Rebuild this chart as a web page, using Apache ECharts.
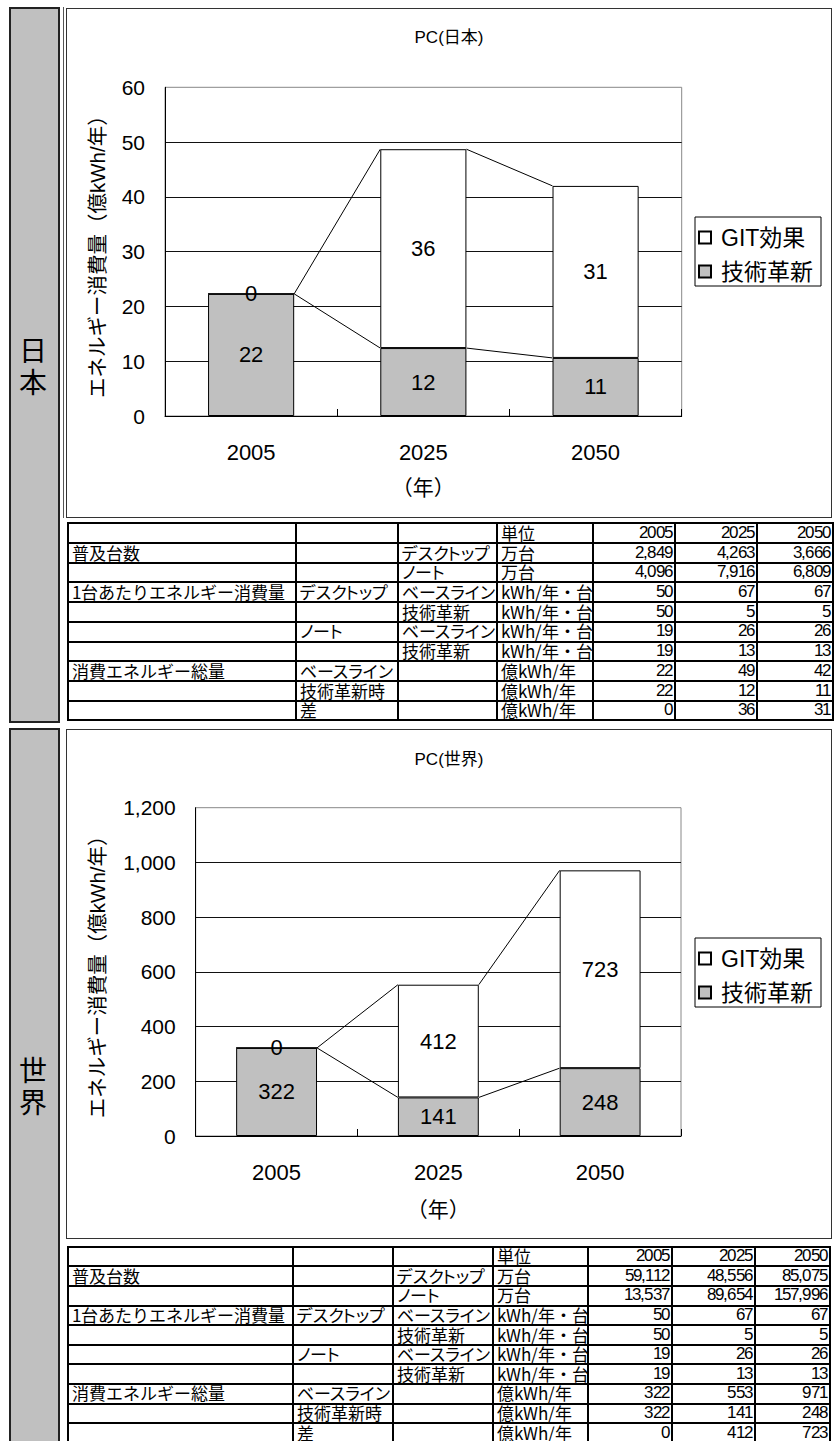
<!DOCTYPE html>
<html><head><meta charset="utf-8">
<script src="https://cdn.jsdelivr.net/npm/echarts@6/dist/echarts.min.js"></script>
<style>
@font-face{font-family:'TblJP';src:local('Noto Sans CJK JP'),local('Noto Sans CJK JP Regular'),local('NotoSansCJKjp-Regular'),local('NotoSansCJKJP-Regular');ascent-override:86%;descent-override:12%;line-gap-override:0%;}
@font-face{font-family:'TblNum';src:local('Liberation Sans'),local('LiberationSans'),local('LiberationSans-Regular');ascent-override:80%;descent-override:16%;line-gap-override:0%;}
html,body{margin:0;padding:0;background:#fff;}
body{width:837px;height:1441px;position:relative;overflow:hidden;font-family:'Noto Sans CJK JP',sans-serif;}
.side{position:absolute;left:9px;width:51px;box-sizing:border-box;border:2px solid #222;background:#c0c0c0;}
.sideLabel{position:absolute;left:9px;width:47px;text-align:center;font-size:28px;line-height:32px;color:#000;font-family:'TblJP','Noto Sans CJK JP',sans-serif;}
.box{position:absolute;left:66px;width:766px;box-sizing:border-box;border:1px solid #333;}
.chart{position:absolute;left:66px;width:766px;}
.hl{position:absolute;height:2px;background:#000;}
.vl{position:absolute;width:2px;background:#000;}
.cell{position:absolute;display:flex;align-items:flex-end;line-height:1;white-space:nowrap;color:#000;}
.txt{font-family:'TblJP','Noto Sans CJK JP',sans-serif;font-size:17px;justify-content:flex-start;padding-left:3px;box-sizing:border-box;}
.num{font-family:'TblNum','Liberation Sans',sans-serif;font-size:17px;letter-spacing:-0.8px;justify-content:flex-end;padding-right:2px;box-sizing:border-box;padding-bottom:1px;}
.palt{font-feature-settings:"palt";}
</style></head><body>
<div class="side" style="top:7px;height:716px;"></div>
<div class="sideLabel" style="top:335px;">日<br>本</div>
<div class="side" style="top:728px;height:730px;"></div>
<div class="sideLabel" style="top:1055px;">世<br>界</div>

<div style="position:absolute;left:63px;top:7px;width:1px;height:511px;background:#555;"></div>
<div class="box" style="top:8px;height:510px;"></div>
<div id="c1" class="chart" style="top:8px;height:510px;"></div>
<div class="box" style="top:729px;height:510px;"></div>
<div id="c2" class="chart" style="top:729px;height:510px;"></div>
<div id="tables"></div>

<script>
// ---- data ----
const years = ['2005', '2025', '2050'];
const jpTech = [22.3, 12.4, 10.6];   // 技術革新
const jpGit = [0, 36.3, 31.4];       // GIT効果
const wTech = [322, 141, 248];
const wGit = [0, 412, 723];
const jpYTicks = {min: 0, max: 60, interval: 10};
const wYTicks = {min: 0, max: 1200, interval: 200};

const tHeader = ['', '', '', '単位'];
const tCol1 = ['普及台数', '', '1台あたりエネルギー消費量', '', '', '', '消費エネルギー総量', '', ''];
const tCol2 = ['', '', 'デスクトップ', '', 'ノート', '', 'ベースライン', '技術革新時', '差'];
const tCol3 = ['デスクトップ', 'ノート', 'ベースライン', '技術革新', 'ベースライン', '技術革新', '', '', ''];
const tUnit = ['万台', '万台', 'kWh/年・台', 'kWh/年・台', 'kWh/年・台', 'kWh/年・台', '億kWh/年', '億kWh/年', '億kWh/年'];
const jpTable = [[2849, 4263, 3666], [4096, 7916, 6809], [50, 67, 67], [50, 5, 5], [19, 26, 26], [19, 13, 13], [22, 49, 42], [22, 12, 11], [0, 36, 31]];
const wTable = [[59112, 48556, 85075], [13537, 89654, 157996], [50, 67, 67], [50, 5, 5], [19, 26, 26], [19, 13, 13], [322, 553, 971], [322, 141, 248], [0, 412, 723]];

const FONT = "'Liberation Sans','Noto Sans CJK JP',sans-serif";

function makeOption(cfg) {
  const n = cfg.tech.length;
  const cumTech = cfg.tech.slice();
  const total = cfg.tech.map((v, i) => v + cfg.git[i]);
  const links = [];
  for (let i = 0; i < n - 1; i++) {
    links.push([i, cumTech[i], cumTech[i + 1]]);
    links.push([i, total[i], total[i + 1]]);
  }
  const lbl = {show: true, position: 'inside', fontSize: 22, color: '#000', fontFamily: FONT,
    formatter: p => String(Math.round(p.value))};
  return {
    animation: false,
    textStyle: {fontFamily: FONT, color: '#000'},
    title: {text: cfg.title, left: 'center', top: cfg.titleTop,
      textStyle: {fontSize: 17, fontWeight: 'normal', color: '#000', fontFamily: FONT}},
    legend: {data: ['GIT効果', '技術革新'], orient: 'vertical', left: 629, top: 209,
      icon: 'path://M0,0H10V10H0Z', itemWidth: 22, itemHeight: 12, itemGap: 11,
      padding: [9, 8, 3, 3], borderColor: '#000', borderWidth: 1, selectedMode: false,
      textStyle: {fontSize: 23, color: '#000', fontFamily: FONT}},
    grid: {left: cfg.grid[0], top: cfg.grid[1], width: cfg.grid[2], height: cfg.grid[3],
      show: true, borderColor: '#888', borderWidth: 1, backgroundColor: 'transparent'},
    xAxis: {type: 'category', data: years, boundaryGap: true,
      axisLine: {lineStyle: {color: '#000', width: 1}},
      axisTick: {show: true, inside: true, length: 7, lineStyle: {color: '#000'}},
      axisLabel: {fontSize: 22, color: '#000', margin: 25, fontFamily: FONT},
      name: '（年）', nameLocation: 'middle', nameGap: cfg.xNameGap,
      nameTextStyle: {fontSize: 21, color: '#000', fontFamily: FONT}},
    yAxis: {type: 'value', min: cfg.y.min, max: cfg.y.max, interval: cfg.y.interval,
      axisLine: {show: true, lineStyle: {color: '#000', width: 1}},
      axisTick: {show: false},
      axisLabel: {fontSize: 21, color: '#000', margin: 20, fontFamily: FONT,
        formatter: v => v.toLocaleString('en-US')},
      splitLine: {show: true, showMaxLine: false, lineStyle: {color: '#111', width: 1}},
      name: 'エネルギー消費量（億kWh/年）', nameLocation: 'middle', nameGap: cfg.yNameGap,
      nameTextStyle: {fontSize: 20.5, color: '#000', fontFamily: FONT}},
    series: [
      {name: '技術革新', type: 'bar', stack: 's', data: cfg.tech, barWidth: '50%',
        itemStyle: {color: '#c0c0c0', borderColor: '#000', borderWidth: 1}, label: lbl},
      {name: 'GIT効果', type: 'bar', stack: 's', data: cfg.git, barWidth: '50%',
        itemStyle: {color: '#ffffff', borderColor: '#000', borderWidth: 1}, label: lbl},
      {name: 'links', type: 'custom', data: links, encode: {x: 0, y: 1}, silent: true, z: 3,
        renderItem: function (params, api) {
          const i = api.value(0);
          const p0 = api.coord([i, api.value(1)]);
          const p1 = api.coord([i + 1, api.value(2)]);
          const bw = api.size([1, 0])[0] * 0.5;
          return {type: 'line', shape: {x1: p0[0] + bw / 2, y1: p0[1], x2: p1[0] - bw / 2, y2: p1[1]},
            style: {stroke: '#000', lineWidth: 1}};
        }}
    ]
  };
}

const c1 = echarts.init(document.getElementById('c1'), null, {renderer: 'svg'});
c1.setOption(makeOption({title: 'PC(日本)', titleTop: 16, tech: jpTech, git: jpGit, y: jpYTicks,
  grid: [99, 79.3, 516.7, 328.7], xNameGap: 61, yNameGap: 57}));
const c2 = echarts.init(document.getElementById('c2'), null, {renderer: 'svg'});
c2.setOption(makeOption({title: 'PC(世界)', titleTop: 17, tech: wTech, git: wGit, y: wYTicks,
  grid: [129.7, 78.7, 485.3, 328.3], xNameGap: 63, yNameGap: 88}));

// ---- tables ----
const host = document.getElementById('tables');
function addDiv(cls, st, html) {
  const d = document.createElement('div');
  d.className = cls;
  for (const k in st) d.style[k] = (typeof st[k] === 'number') ? st[k] + 'px' : st[k];
  if (html !== undefined) d.textContent = html;
  host.appendChild(d);
  return d;
}
function buildTable(top, rowH, colEdges, nums) {
  const nRows = 10;
  const rowEdges = [];
  for (let k = 0; k <= nRows; k++) rowEdges.push(top + k * rowH);
  const x0 = colEdges[0], x1 = colEdges[colEdges.length - 1];
  rowEdges.forEach(y => addDiv('hl', {left: x0 - 1, top: y - 1, width: x1 - x0 + 2}));
  colEdges.forEach(x => addDiv('vl', {left: x - 1, top: top - 1, height: rowEdges[nRows] - top + 2}));
  function cell(r, c, text, isNum) {
    const l = colEdges[c] + 1, w = colEdges[c + 1] - colEdges[c] - 2;
    const t = rowEdges[r] + 1, h = rowEdges[r + 1] - rowEdges[r] - 2;
    const cls = 'cell ' + (isNum ? 'num' : 'txt') + ((c === 1 || c === 2) ? ' palt' : '');
    addDiv(cls, {left: l, top: t, width: w, height: h}, text);
  }
  tHeader.forEach((t, c) => { if (t) cell(0, c, t, false); });
  years.forEach((y, j) => cell(0, 4 + j, y, true));
  for (let r = 0; r < 9; r++) {
    if (tCol1[r]) cell(r + 1, 0, tCol1[r], false);
    if (tCol2[r]) cell(r + 1, 1, tCol2[r], false);
    if (tCol3[r]) cell(r + 1, 2, tCol3[r], false);
    cell(r + 1, 3, tUnit[r], false);
    nums[r].forEach((v, j) => cell(r + 1, 4 + j, v.toLocaleString('en-US'), true));
  }
}
buildTable(523.3, 19.7, [68, 296, 398, 497, 593, 675, 757, 833], jpTable);
buildTable(1246.7, 19.6, [68, 293, 393, 493, 588, 672, 755, 830], wTable);
</script>
</body></html>
